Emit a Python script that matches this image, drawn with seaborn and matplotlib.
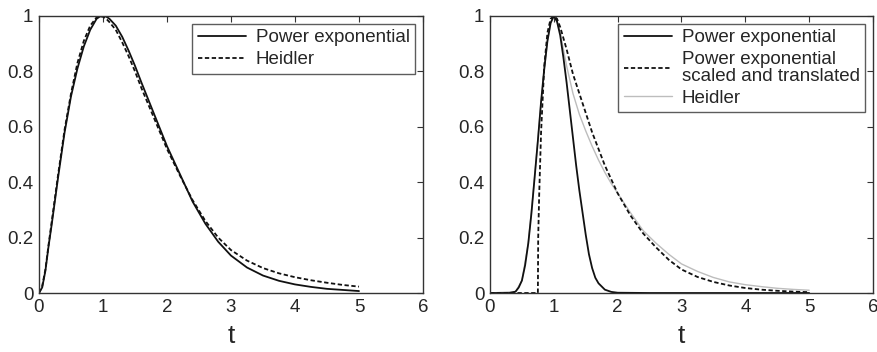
import numpy as np
import pandas as pd
import matplotlib
matplotlib.use("Agg")
import matplotlib.pyplot as plt
import seaborn as sns

# ---------------- data ----------------
# Left panel
t_left = [0, 0.05, 0.1, 0.15, 0.2, 0.3, 0.4, 0.5, 0.6, 0.7, 0.8, 0.9, 0.95, 1.0, 1.05,
          1.1, 1.2, 1.3, 1.4, 1.5, 1.6, 1.8, 2.0, 2.2, 2.4, 2.6, 2.8, 3.0,
          3.25, 3.5, 3.75, 4.0, 4.25, 4.5, 4.75, 5.0]
pe_left = [0, 0.02, 0.08, 0.17, 0.25, 0.42, 0.58, 0.71, 0.81, 0.89, 0.95, 0.99, 0.998, 1.0, 0.998,
           0.99, 0.965, 0.925, 0.875, 0.82, 0.76, 0.645, 0.53, 0.43, 0.33, 0.25, 0.185, 0.135,
           0.092, 0.063, 0.044, 0.031, 0.022, 0.015, 0.011, 0.007]
heidler_left = [0, 0.025, 0.085, 0.175, 0.26, 0.43, 0.59, 0.72, 0.83, 0.91, 0.965, 0.995, 1.0, 0.997, 0.99,
                0.978, 0.95, 0.905, 0.855, 0.80, 0.74, 0.63, 0.52, 0.425, 0.335, 0.26, 0.20, 0.155,
                0.117, 0.09, 0.071, 0.057, 0.046, 0.037, 0.029, 0.023]

# Right panel
t_pe_right = [0, 0.3, 0.4, 0.45, 0.5, 0.55, 0.6, 0.65, 0.7, 0.75, 0.8, 0.85, 0.9, 0.95, 1.0,
              1.05, 1.1, 1.15, 1.2, 1.25, 1.3, 1.35, 1.4, 1.45, 1.5, 1.55, 1.6, 1.65, 1.7,
              1.8, 1.9, 2.0, 2.5, 5.0]
pe_right = [0, 0, 0.005, 0.02, 0.045, 0.1, 0.18, 0.29, 0.42, 0.55, 0.69, 0.81, 0.91, 0.975, 1.0,
            0.98, 0.93, 0.85, 0.76, 0.66, 0.56, 0.46, 0.37, 0.29, 0.21, 0.14, 0.09, 0.055, 0.035,
            0.012, 0.004, 0.001, 0, 0]

t_scaled = [0, 0.74, 0.75, 0.755, 0.77, 0.8, 0.85, 0.9, 0.95, 1.0, 1.05, 1.1, 1.2, 1.3, 1.4,
            1.5, 1.6, 1.7, 1.8, 1.9, 2.0, 2.2, 2.4, 2.6, 2.8, 3.0, 3.25, 3.5, 3.75, 4.0,
            4.25, 4.5, 4.75, 5.0]
pe_scaled = [0, 0, 0, 0.2, 0.35, 0.58, 0.82, 0.94, 0.99, 1.0, 0.99, 0.96, 0.88, 0.79, 0.72,
             0.65, 0.58, 0.52, 0.46, 0.41, 0.36, 0.28, 0.215, 0.165, 0.12, 0.085, 0.058, 0.04,
             0.027, 0.018, 0.012, 0.008, 0.005, 0.003]

t_heidler_right = [0, 0.4, 0.5, 0.6, 0.7, 0.8, 0.9, 0.95, 1.0, 1.05, 1.1, 1.2, 1.3, 1.4, 1.5,
                   1.6, 1.7, 1.8, 1.9, 2.0, 2.2, 2.4, 2.6, 2.8, 3.0, 3.25, 3.5, 3.75, 4.0,
                   4.25, 4.5, 4.75, 5.0]
heidler_right = [0, 0.005, 0.045, 0.18, 0.42, 0.69, 0.91, 0.975, 1.0, 0.98, 0.94, 0.82, 0.72, 0.645,
                 0.585, 0.53, 0.48, 0.435, 0.395, 0.36, 0.29, 0.225, 0.18, 0.14, 0.105, 0.078,
                 0.056, 0.04, 0.03, 0.023, 0.017, 0.013, 0.01]

x_ticks = [0, 1, 2, 3, 4, 5, 6]
x_ticklabels = ["0", "1", "2", "3", "4", "5", "6"]
y_ticks = [0, 0.2, 0.4, 0.6, 0.8, 1.0]
y_ticklabels = ["0", "0.2", "0.4", "0.6", "0.8", "1"]
x_label = "t"

# ---------------- styling ----------------
sns.set_style("white")
plt.rcParams["font.family"] = ["Liberation Sans", "DejaVu Sans"]
TXT = "#262626"
FS = 13.5

fig = plt.figure(figsize=(8.78, 3.52), dpi=100)
ax1 = fig.add_axes([39 / 878, 59 / 352, 384 / 878, 277 / 352])
ax2 = fig.add_axes([490 / 878, 59 / 352, 383 / 878, 277 / 352])

DASH = (2.4, 1.4)

sns.lineplot(x=t_left, y=pe_left, ax=ax1, color="#111111", lw=1.3,
             label="Power exponential", sort=False, estimator=None)
sns.lineplot(x=t_left, y=heidler_left, ax=ax1, color="#111111", lw=1.3,
             label="Heidler", sort=False, estimator=None)
ax1.lines[1].set_dashes(DASH)

sns.lineplot(x=t_pe_right, y=pe_right, ax=ax2, color="#111111", lw=1.3,
             label="Power exponential", sort=False, estimator=None, zorder=3)
sns.lineplot(x=t_scaled, y=pe_scaled, ax=ax2, color="#111111", lw=1.3,
             label="Power exponential\nscaled and translated", sort=False, estimator=None,
             zorder=3)
ax2.lines[1].set_dashes(DASH)
sns.lineplot(x=t_heidler_right, y=heidler_right, ax=ax2, color="#bdbdbd", lw=1.0,
             label="Heidler", sort=False, estimator=None, zorder=2)

for ax in (ax1, ax2):
    ax.set_xlim(0, 6)
    ax.set_ylim(0, 1)
    ax.set_xticks(x_ticks)
    ax.set_xticklabels(x_ticklabels)
    ax.set_yticks(y_ticks)
    ax.set_yticklabels(y_ticklabels)
    ax.tick_params(direction="in", length=4, width=0.8, top=True, right=True,
                   labelsize=FS, colors="#333333", labelcolor=TXT, pad=4)
    for sp in ax.spines.values():
        sp.set_visible(True)
        sp.set_color("#333333")
        sp.set_linewidth(1.0)
        sp.set_zorder(5)
    ax.set_xlabel(x_label, fontsize=19, color=TXT, labelpad=6)
    ax.set_ylabel("")
    leg = ax.legend(loc="upper right", fontsize=FS, frameon=True, fancybox=False,
                    handlelength=2.6, handletextpad=0.5, borderpad=0.3,
                    borderaxespad=0.4, labelspacing=0.25)
    leg.get_frame().set_edgecolor("#333333")
    leg.get_frame().set_linewidth(1.0)
    for txt in leg.get_texts():
        txt.set_color(TXT)
        txt.set_linespacing(1.0)
    leg.get_lines()[1].set_dashes(DASH)

fig.savefig("out.png", dpi=100)
